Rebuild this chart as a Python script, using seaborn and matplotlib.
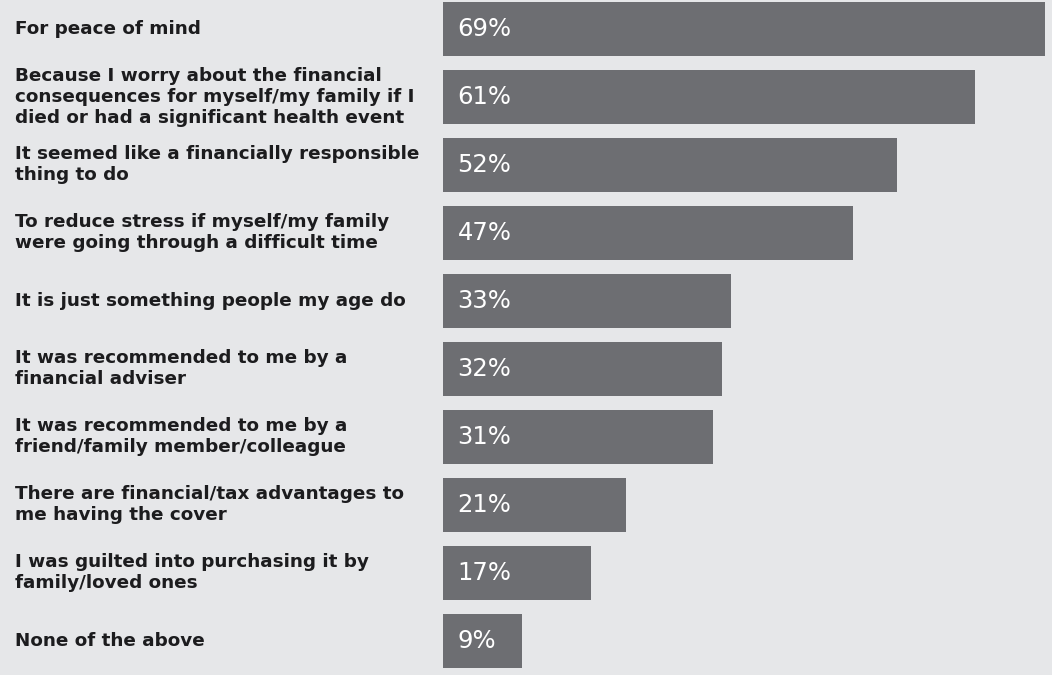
import matplotlib
matplotlib.use("Agg")
import matplotlib.pyplot as plt
import matplotlib.transforms as mtransforms
import seaborn as sns
import pandas as pd

reasons = [
    "For peace of mind",
    "Because I worry about the financial\nconsequences for myself/my family if I\ndied or had a significant health event",
    "It seemed like a financially responsible\nthing to do",
    "To reduce stress if myself/my family\nwere going through a difficult time",
    "It is just something people my age do",
    "It was recommended to me by a\nfinancial adviser",
    "It was recommended to me by a\nfriend/family member/colleague",
    "There are financial/tax advantages to\nme having the cover",
    "I was guilted into purchasing it by\nfamily/loved ones",
    "None of the above",
]
shares = [69, 61, 52, 47, 33, 32, 31, 21, 17, 9]

BG = "#e6e7e9"
BAR = "#6d6e72"
TEXT = "#1c1c1e"

sns.set_theme(style="white")
plt.rcParams["font.family"] = ["DejaVu Sans"]

df = pd.DataFrame({"reason": reasons, "share": shares})

fig = plt.figure(figsize=(10.52, 6.75), dpi=100)
fig.patch.set_facecolor(BG)
ax = fig.add_axes([443 / 1052, 0, 1 - 443 / 1052, 1])
ax.set_facecolor(BG)

sns.barplot(data=df, y="reason", x="share", orient="h", color=BAR,
            saturation=1, width=0.794, linewidth=0, ax=ax)

ax.set_xlim(0, 69.8)
ax.set_ylim(9.503, -0.4235)
ax.set_xlabel("")
ax.set_ylabel("")
ax.set_xticks([])
ax.set_yticks([])
for s in ax.spines.values():
    s.set_visible(False)

label_tf = mtransforms.blended_transform_factory(fig.transFigure, ax.transData)
for i, (r, v) in enumerate(zip(reasons, shares)):
    ax.text(15 / 1052, i, r, transform=label_tf, ha="left", va="center",
            fontsize=13.2, fontweight="bold", color=TEXT, linespacing=1.2,
            clip_on=False)
    ax.text(1.65, i, f"{v}%", ha="left", va="center", fontsize=17.5,
            color="white")

fig.savefig("out.png", dpi=100, facecolor=BG)
